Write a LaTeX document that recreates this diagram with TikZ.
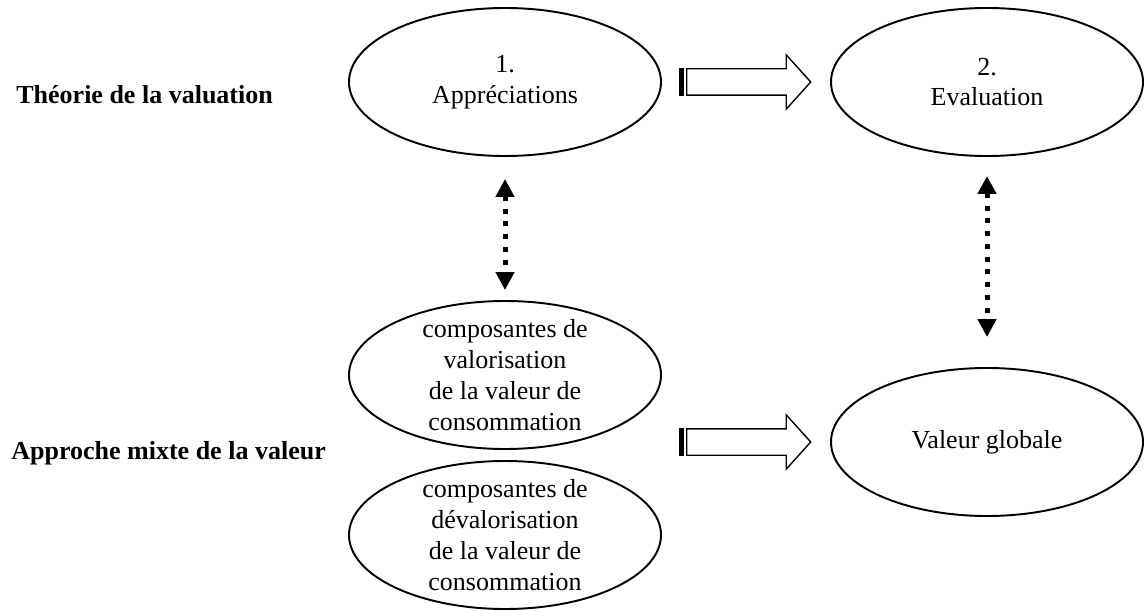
\documentclass[tikz,border=0pt]{standalone}
\usepackage{fontspec}
\setmainfont{Liberation Serif}
\usetikzlibrary{shapes.geometric,shapes.arrows,arrows.meta,positioning}

\tikzset{
	oval/.style={draw, ellipse, line width=1.1pt, minimum width=6.24cm, minimum height=2.96cm, inner sep=-1cm, align=center},
	grosfleche/.style={draw, single arrow, line width=0.8pt, minimum height=2.48cm, inner xsep=0pt, inner ysep=0.25cm,
		single arrow head extend=0.28cm, single arrow head indent=0pt, single arrow tip angle=96, anchor=tail},
	pointille/.style={line width=0.1cm, dash pattern=on 0.1cm off 0.155cm,
		{Triangle[width=0.36cm,length=0.36cm]}-{Triangle[width=0.36cm,length=0.36cm]}},
	titre/.style={font=\bfseries, anchor=west, inner sep=0pt}
}

\begin{document}
\fontsize{14.8}{17.6}\selectfont
\begin{tikzpicture}
	\def\xg{10.10}
	\def\xd{19.74}
	\useasboundingbox (0,0) rectangle (22.88,-12.24);
	
	% les deux approches
	\node[titre] (theorie) at (0.32,-1.90) {Théorie de la valuation};
	\node[titre] (mixte) at (0.22,-9.06) {Approche mixte de la valeur};
	
	% ellipses
	\node[oval] (app) at (\xg,-1.64) {1.\\Appréciations};
	\node[oval] (eval) at (\xd,-1.64) {2.\\Evaluation};
	\node[oval] (valo) at (\xg,-7.50) {composantes de\\valorisation\\de la valeur de\\consommation};
	\node[oval] (devalo) at (\xg,-10.70) {composantes de\\dévalorisation\\de la valeur de\\consommation};
	\node[oval] (glob) at (\xd,-8.84) {Valeur globale};
	
	% grosses fleches
	\node[grosfleche] (f1) at (13.72,-1.64) {};
	\node[grosfleche] (f2) at (13.72,-8.84) {};
	\foreach \f in {f1,f2}
		\draw[line width=0.1cm] ([xshift=-0.09cm]\f.before tail) -- ([xshift=-0.09cm]\f.after tail);
	
	% liens en pointille
	\draw[pointille, shorten <=0.44cm, shorten >=0.2cm] (app.south) -- (valo.north);
	\draw[pointille, shorten <=0.38cm, shorten >=0.6cm] (eval.south) -- (glob.north);
\end{tikzpicture}
\end{document}
